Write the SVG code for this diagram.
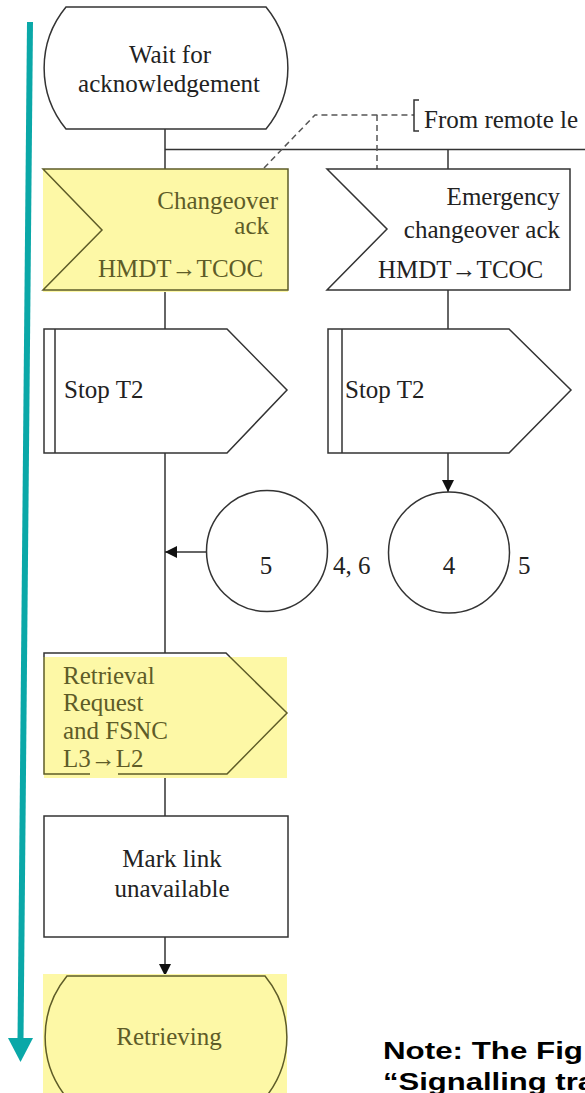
<svg xmlns="http://www.w3.org/2000/svg" width="585" height="1093" viewBox="0 0 585 1093">
<style>
.shape{fill:none;stroke:#333;stroke-width:1.5}
.ys{fill:none;stroke:#5e5c28;stroke-width:1.5}
.hl{fill:#fdf8a6}
.t{font-family:"Liberation Serif","Times New Roman",serif;font-size:25px;fill:#222}
.yt{font-family:"Liberation Serif","Times New Roman",serif;font-size:25px;fill:#5e5c28}
.mid{text-anchor:middle}
.end{text-anchor:end}
.line{fill:none;stroke:#333;stroke-width:1.5}
.dash{fill:none;stroke:#555;stroke-width:1.5;stroke-dasharray:6 4}
.note{font-family:"Liberation Sans",Arial,sans-serif;font-size:24px;font-weight:bold;fill:#000}
</style>
<defs>
<marker id="ah" viewBox="0 0 12 12" refX="12" refY="6" markerWidth="12" markerHeight="12" markerUnits="userSpaceOnUse" orient="auto">
<path d="M0,0 L12,6 L0,12 Z" fill="#111"/>
</marker>
</defs>
<rect width="585" height="1093" fill="#fff"/>

<g id="connectors">
<path class="line" d="M165,129 V169"/>
<path class="line" d="M165,149.5 H585"/>
<path class="line" d="M448,149.5 V169"/>
<path class="dash" d="M264,168 L315,115 H414"/>
<path class="dash" d="M377,115 V169"/>
<path class="line" d="M419,100 H414 V131 H419"/>
<path class="line" d="M165,291 V329"/>
<path class="line" d="M448,290 V329"/>
<path class="line" d="M165,453 V653"/>
<path class="line" d="M448,453 V492" marker-end="url(#ah)"/>
<path class="line" d="M206,552 H165" marker-end="url(#ah)"/>
<path class="line" d="M165,774 V816"/>
<path class="line" d="M165,937 V976" marker-end="url(#ah)"/>
</g>

<g id="wait">
<path class="shape" d="M66,7 L266,7 A96,96 0 0 1 266,129 L66,129 A96,96 0 0 1 66,7 Z"/>
<text class="t mid" x="170" y="63">Wait for</text>
<text class="t mid" x="169" y="92">acknowledgement</text>
</g>

<g id="remote-label">
<text class="t" x="424" y="128">From remote le</text>
</g>

<g id="changeover-ack">
<rect class="hl" x="43" y="169" width="245" height="123"/>
<path class="ys" d="M43,169 L288,169 L288,290 L43,290 L102,230 Z"/>
<text class="yt end" x="278" y="209">Changeover</text>
<text class="yt end" x="269" y="234">ack</text>
<text class="yt" x="98" y="277">HMDT→TCOC</text>
</g>

<g id="emergency-ack">
<path class="shape" d="M327,169 L570,169 L570,290 L327,290 L387,229 Z"/>
<text class="t end" x="560" y="205">Emergency</text>
<text class="t end" x="560" y="238">changeover ack</text>
<text class="t" x="378" y="278">HMDT→TCOC</text>
</g>

<g id="stop-t2-a">
<path class="shape" d="M44,329 L227,329 L287,390 L227,453 L44,453 Z M55,329 V453"/>
<text class="t" x="64" y="398">Stop T2</text>
</g>

<g id="stop-t2-b">
<path class="shape" d="M328,329 L509,329 L571,390 L509,453 L328,453 Z M342,329 V453"/>
<text class="t" x="345" y="398">Stop T2</text>
</g>

<g id="connector-5">
<circle class="shape" cx="267" cy="551" r="60.5"/>
<text class="t mid" x="266" y="574">5</text>
<text class="t" x="333" y="574">4, 6</text>
</g>

<g id="connector-4">
<circle class="shape" cx="449" cy="552.5" r="60.5"/>
<text class="t mid" x="449" y="574">4</text>
<text class="t" x="518" y="574">5</text>
</g>

<g id="retrieval-request">
<rect class="hl" x="44" y="657" width="243" height="121"/>
<path class="shape" d="M44,657 V653 H226 L230,657"/>
<path class="ys" d="M90,774 L44,774 L44,657 M230,657 L287,713 L227,774 L118,774"/>
<text class="yt" x="63" y="684">Retrieval</text>
<text class="yt" x="63" y="711">Request</text>
<text class="yt" x="63" y="739">and FSNC</text>
<text class="yt" x="63" y="767">L3→L2</text>
</g>

<g id="mark-link">
<rect class="shape" x="44" y="816" width="244" height="121"/>
<text class="t mid" x="172" y="867">Mark link</text>
<text class="t mid" x="172" y="897">unavailable</text>
</g>

<g id="retrieving">
<rect class="hl" x="43" y="974" width="244" height="119"/>
<path class="ys" d="M67,976 L265,976 A96,96 0 0 1 265,1098 L67,1098 A96,96 0 0 1 67,976 Z"/>
<text class="yt mid" x="169" y="1045">Retrieving</text>
</g>

<g id="timeline-arrow">
<path d="M30,22 L20.5,1040" stroke="#0aa8a8" stroke-width="6" fill="none"/>
<path d="M8,1038 L33,1038 L20.5,1062 Z" fill="#0aa8a8"/>
</g>

<g id="note">
<text class="note" x="383" y="1059" textLength="200" lengthAdjust="spacingAndGlyphs">Note: The Fig</text>
<text class="note" x="383" y="1090" textLength="212" lengthAdjust="spacingAndGlyphs">“Signalling tra</text>
</g>
</svg>
